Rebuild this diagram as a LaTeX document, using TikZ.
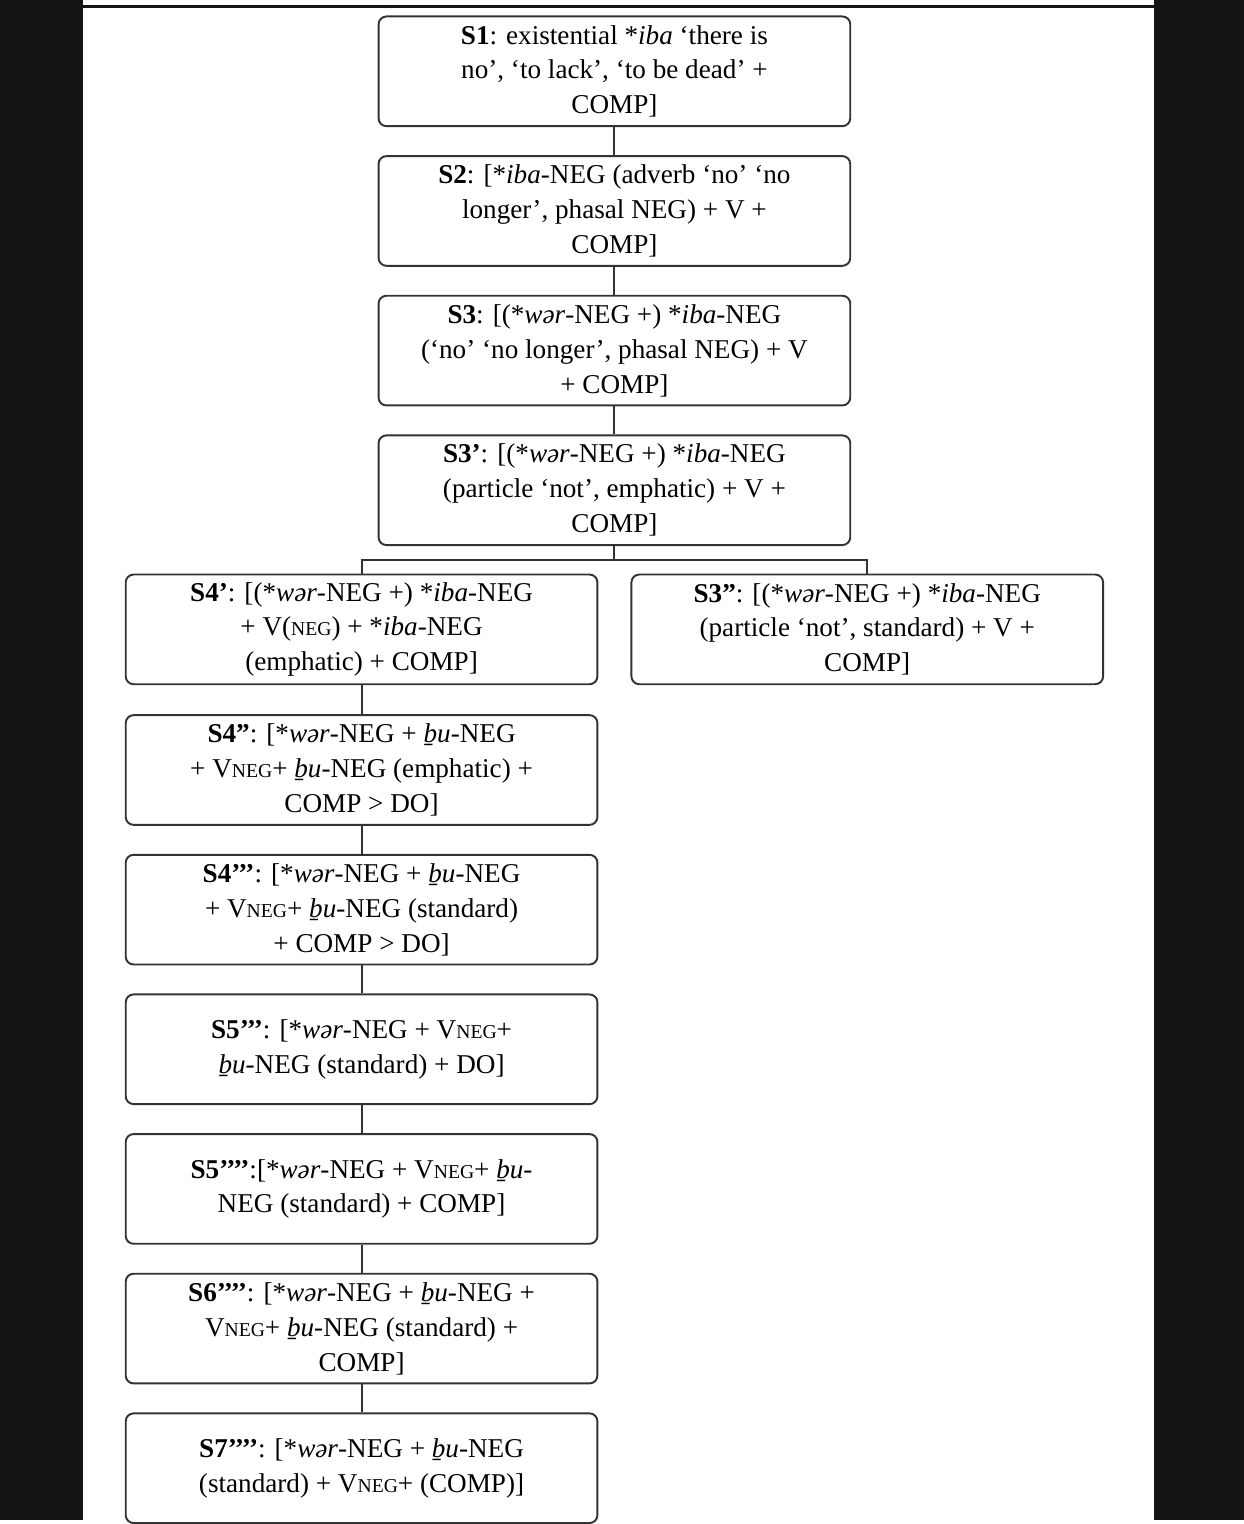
\documentclass[tikz,border=0pt]{standalone}
\usepackage{fontspec}
\setmainfont{Liberation Serif}
\newcommand{\Vneg}{V{\fontsize{11.2}{12}\selectfont NEG}}
\newcommand{\wor}{*\textit{wər}}
\newcommand{\bu}{\textit{ḇu}}
\begin{document}
\begin{tikzpicture}[
  x=0.02cm,
  y=-0.02cm,
  stage/.style={
    draw=black!80,
    line width=1.1pt,
    rounded corners=4.5pt,
    fill=white,
    minimum width=9.46cm,
    minimum height=2.2cm,
    inner sep=2pt,
    align=center,
    font=\fontsize{15.5}{19.9}\selectfont
  },
  link/.style={draw=black!80, line width=1.1pt},
  frame/.style={fill=black!92}
]

% page background and dark side bars of the scan
\fill[white] (0,0) rectangle (1247,1524);
\fill[frame] (0,0) rectangle (83,1524);
\fill[frame] (1157,0) rectangle (1247,1524);
\fill[frame] (0,5) rectangle (1247,8);

% upper column
\node[stage] (s1) at (616,71.5)
  {\textbf{S1}: existential *\textit{iba} ‘there is\\ no’, ‘to lack’, ‘to be dead’ +\\ COMP]};
\node[stage] (s2) at (616,211.5)
  {\textbf{S2}: [*\textit{iba}-NEG (adverb ‘no’ ‘no\\ longer’, phasal NEG) + V +\\ COMP]};
\node[stage] (s3) at (616,351.5)
  {\textbf{S3}: [(\wor-NEG +) *\textit{iba}-NEG\\ (‘no’ ‘no longer’, phasal NEG) + V\\ + COMP]};
\node[stage] (s3p) at (616,491.5)
  {\textbf{S3’}: [(\wor-NEG +) *\textit{iba}-NEG\\ (particle ‘not’, emphatic) + V +\\ COMP]};

% the two branches
\node[stage] (s4p) at (362.5,631)
  {\textbf{S4’}: [(\wor-NEG +) *\textit{iba}-NEG\\ + V({\fontsize{11.2}{12}\selectfont NEG}) + *\textit{iba}-NEG\\ (emphatic) + COMP]};
\node[stage] (s3pp) at (869.5,631)
  {\textbf{S3”}: [(\wor-NEG +) *\textit{iba}-NEG\\ (particle ‘not’, standard) + V +\\ COMP]};

% lower column
\node[stage] (s4pp) at (362.5,772)
  {\textbf{S4”}: [\wor-NEG + \bu-NEG\\ + \Vneg+ \bu-NEG (emphatic) +\\ COMP > DO]};
\node[stage] (s4ppp) at (362.5,912)
  {\textbf{S4’’’}: [\wor-NEG + \bu-NEG\\ + \Vneg+ \bu-NEG (standard)\\ + COMP > DO]};
\node[stage] (s5ppp) at (362.5,1052)
  {\textbf{S5’’’}: [\wor-NEG + \Vneg+\\ \bu-NEG (standard) + DO]};
\node[stage] (s5pppp) at (362.5,1192)
  {\textbf{S5’’’’}:[\wor-NEG + \Vneg+ \bu-\\ NEG (standard) + COMP]};
\node[stage] (s6pppp) at (362.5,1332)
  {\textbf{S6’’’’}: [\wor-NEG + \bu-NEG +\\ \Vneg+ \bu-NEG (standard) +\\ COMP]};
\node[stage] (s7pppp) at (362.5,1472)
  {\textbf{S7’’’’}: [\wor-NEG + \bu-NEG\\ (standard) + \Vneg+ (COMP)]};

\draw[link] (s1) -- (s2);
\draw[link] (s2) -- (s3);
\draw[link] (s3) -- (s3p);

\coordinate (split) at (616,561);
\draw[link] (s3p) -- (split);
\draw[link] (s4p.north) |- (split) -| (s3pp.north);

\draw[link] (s4p) -- (s4pp);
\draw[link] (s4pp) -- (s4ppp);
\draw[link] (s4ppp) -- (s5ppp);
\draw[link] (s5ppp) -- (s5pppp);
\draw[link] (s5pppp) -- (s6pppp);
\draw[link] (s6pppp) -- (s7pppp);

\useasboundingbox (0,0) rectangle (1247,1524);
\end{tikzpicture}
\end{document}
